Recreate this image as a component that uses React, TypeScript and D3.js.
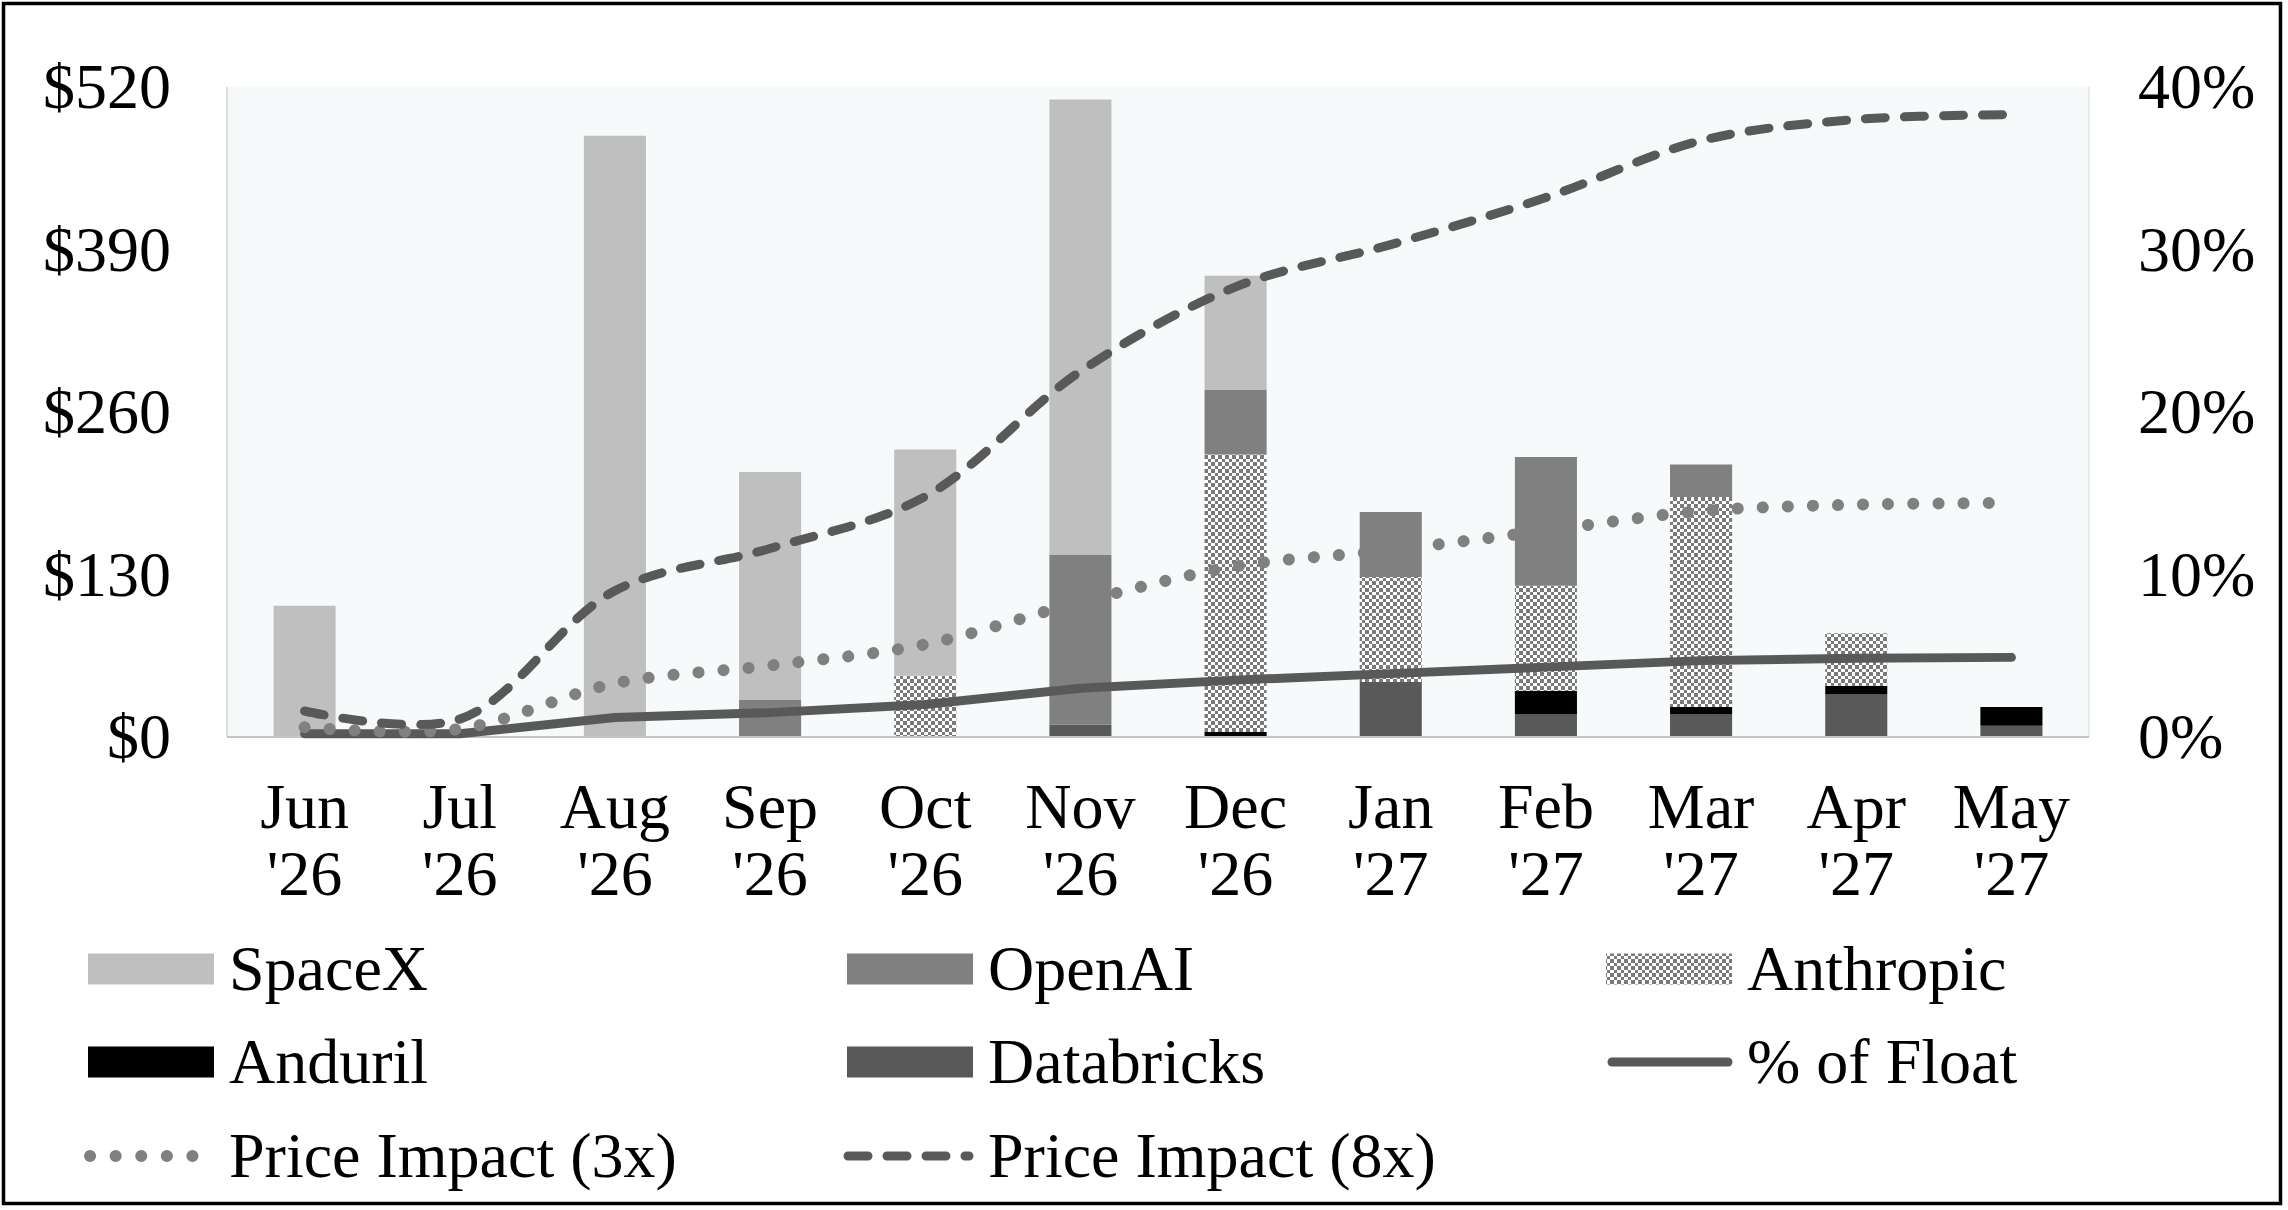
import { useEffect, useRef } from "react";
import * as d3 from "d3";

// months on the x axis, two lines each
const months = ["Jun", "Jul", "Aug", "Sep", "Oct", "Nov", "Dec", "Jan", "Feb", "Mar", "Apr", "May"];
const years = ["'26", "'26", "'26", "'26", "'26", "'26", "'26", "'27", "'27", "'27", "'27", "'27"];

// bar values ($), stacked bottom to top: Databricks, Anduril, Anthropic, OpenAI, SpaceX
const databricks = [0, 0, 0, 0, 0, 10, 0, 44, 18, 18, 34, 9];
const anduril = [0, 0, 0, 0, 0, 0, 4, 0, 19, 6, 7, 15];
const anthropic = [0, 0, 0, 0, 49, 0, 222, 84, 84, 168, 42, 0];
const openai = [0, 0, 0, 30, 0, 136, 52, 52, 103, 26, 0, 0];
const spacex = [105, 0, 481, 182, 181, 364, 91, 0, 0, 0, 0, 0];

// line values (%), right axis
const pctFloat = [0.2, 0.2, 1.2, 1.5, 2.0, 3.0, 3.5, 3.9, 4.3, 4.7, 4.85, 4.9];
const impact3x = [0.6, 0.5, 3.3, 4.4, 5.7, 8.3, 10.5, 11.5, 12.7, 13.9, 14.3, 14.4];
const impact8x = [1.6, 1.1, 9.0, 11.6, 14.8, 22.5, 27.7, 30.3, 33.2, 36.7, 38.0, 38.3];

const leftTicks = [0, 130, 260, 390, 520];
const rightTicks = [0, 10, 20, 30, 40];

const W = 2288;
const H = 1210;
const FONT = "'Liberation Serif', 'Times New Roman', serif";

export default function App() {
  const ref = useRef<SVGSVGElement | null>(null);

  useEffect(() => {
    if (!ref.current) return;
    const svg = d3.select(ref.current);
    svg.selectAll("*").remove();

    const m = { left: 227, right: 2089, top: 87, bottom: 737 };

    const x = d3.scaleBand<string>()
      .domain(months.map((d, i) => d + i))
      .range([m.left, m.right])
      .paddingInner(0.6)
      .paddingOuter(0.3);
    const key = (i: number) => months[i] + i;
    const cx = (i: number) => (x(key(i)) as number) + x.bandwidth() / 2;

    const y = d3.scaleLinear().domain([0, 520]).range([m.bottom, m.top]);
    const y2 = d3.scaleLinear().domain([0, 40]).range([m.bottom, m.top]);

    // checkerboard for Anthropic
    const defs = svg.append("defs");
    const pat = defs.append("pattern")
      .attr("id", "checker")
      .attr("patternUnits", "userSpaceOnUse")
      .attr("width", 7)
      .attr("height", 7);
    pat.append("rect").attr("width", 7).attr("height", 7).attr("fill", "#ffffff");
    pat.append("rect").attr("width", 3.5).attr("height", 3.5).attr("fill", "#7a7a7a")
      .attr("shape-rendering", "crispEdges");
    pat.append("rect").attr("x", 3.5).attr("y", 3.5).attr("width", 3.5).attr("height", 3.5).attr("fill", "#7a7a7a")
      .attr("shape-rendering", "crispEdges");

    svg.append("rect").attr("width", W).attr("height", H).attr("fill", "#ffffff");

    // plot area
    svg.append("rect")
      .attr("x", m.left).attr("y", m.top)
      .attr("width", m.right - m.left).attr("height", m.bottom - m.top)
      .attr("fill", "#f6fafb");
    svg.append("line").attr("x1", m.left).attr("x2", m.left).attr("y1", m.top).attr("y2", m.bottom)
      .attr("stroke", "#d4d4d4").attr("stroke-width", 1.5);
    svg.append("line").attr("x1", m.right).attr("x2", m.right).attr("y1", m.top).attr("y2", m.bottom)
      .attr("stroke", "#dfe3e4").attr("stroke-width", 1.5);

    // stacked bars
    const series = [
      { name: "Databricks", values: databricks, fill: "#595959" },
      { name: "Anduril", values: anduril, fill: "#000000" },
      { name: "Anthropic", values: anthropic, fill: "url(#checker)" },
      { name: "OpenAI", values: openai, fill: "#808080" },
      { name: "SpaceX", values: spacex, fill: "#bfbfbf" },
    ];
    const rows = months.map((_, i) => {
      const r: Record<string, number> = { i };
      series.forEach(s => (r[s.name] = s.values[i]));
      return r;
    });
    const stacked = d3.stack<Record<string, number>>().keys(series.map(s => s.name))(rows);

    stacked.forEach((layer, li) => {
      svg.append("g")
        .attr("fill", series[li].fill)
        .selectAll("rect")
        .data(layer.filter(d => d[1] - d[0] > 0))
        .join("rect")
        .attr("x", d => x(key(d.data.i)) as number)
        .attr("width", x.bandwidth())
        .attr("y", d => y(d[1]))
        .attr("height", d => y(d[0]) - y(d[1]));
    });

    svg.append("line").attr("x1", m.left).attr("x2", m.right).attr("y1", m.bottom).attr("y2", m.bottom)
      .attr("stroke", "#c4c4c4").attr("stroke-width", 2);

    // lines
    const straight = d3.line<number>().x((_, i) => cx(i)).y(d => y2(d));
    const smooth = d3.line<number>().x((_, i) => cx(i)).y(d => y2(d)).curve(d3.curveCatmullRom.alpha(0.5));

    svg.append("path").datum(pctFloat)
      .attr("fill", "none").attr("stroke", "#595959").attr("stroke-width", 9)
      .attr("stroke-linecap", "round").attr("stroke-linejoin", "round")
      .attr("d", straight);
    svg.append("path").datum(impact3x)
      .attr("fill", "none").attr("stroke", "#808080").attr("stroke-width", 12)
      .attr("stroke-linecap", "round").attr("stroke-dasharray", "0.1 25")
      .attr("d", smooth);
    svg.append("path").datum(impact8x)
      .attr("fill", "none").attr("stroke", "#595959").attr("stroke-width", 9)
      .attr("stroke-linecap", "round").attr("stroke-dasharray", "20 19")
      .attr("d", smooth);

    const text = (g: d3.Selection<SVGSVGElement, unknown, null, undefined>) =>
      g.append("text").attr("font-family", FONT).attr("font-size", 64).attr("fill", "#000");

    // axes labels
    leftTicks.forEach(v => {
      text(svg).attr("x", 171).attr("y", y(v) + 21).attr("text-anchor", "end").text(`$${v}`);
    });
    rightTicks.forEach(v => {
      text(svg).attr("x", 2138).attr("y", y2(v) + 21).attr("text-anchor", "start").text(`${v}%`);
    });
    months.forEach((mo, i) => {
      text(svg).attr("x", cx(i)).attr("y", 828).attr("text-anchor", "middle").text(mo);
      text(svg).attr("x", cx(i)).attr("y", 895).attr("text-anchor", "middle").text(years[i]);
    });

    // legend
    const colX = [88, 847, 1606];
    const rowY = [990, 1083, 1177];
    const items = [
      { label: "SpaceX", type: "box", fill: "#bfbfbf" },
      { label: "OpenAI", type: "box", fill: "#808080" },
      { label: "Anthropic", type: "box", fill: "url(#checker)" },
      { label: "Anduril", type: "box", fill: "#000000" },
      { label: "Databricks", type: "box", fill: "#595959" },
      { label: "% of Float", type: "solid", fill: "#595959" },
      { label: "Price Impact (3x)", type: "dot", fill: "#808080" },
      { label: "Price Impact (8x)", type: "dash", fill: "#595959" },
    ];
    items.forEach((it, k) => {
      const lx = colX[k % 3];
      const ly = rowY[Math.floor(k / 3)];
      const mid = ly - 21;
      if (it.type === "box") {
        svg.append("rect").attr("x", lx).attr("y", mid - 15.5).attr("width", 126).attr("height", 31).attr("fill", it.fill);
      } else {
        const ln = svg.append("line")
          .attr("x1", lx + 6).attr("x2", lx + 122).attr("y1", mid).attr("y2", mid)
          .attr("stroke", it.fill).attr("stroke-linecap", "round");
        if (it.type === "solid") ln.attr("stroke-width", 9);
        if (it.type === "dot") ln.attr("stroke-width", 12).attr("stroke-dasharray", "0.1 25.5").attr("x1", lx + 2);
        if (it.type === "dash") ln.attr("stroke-width", 9).attr("stroke-dasharray", "20 19").attr("x1", lx + 1);
      }
      text(svg).attr("x", lx + 141).attr("y", ly).text(it.label);
    });

    // outer frame
    svg.append("rect")
      .attr("x", 3.5).attr("y", 3.5).attr("width", 2277).attr("height", 1200)
      .attr("fill", "none").attr("stroke", "#000").attr("stroke-width", 3.5);
  }, []);

  return (
    <svg
      ref={ref}
      width={W}
      height={H}
      style={{ position: "absolute", left: 0, top: 0, display: "block" }}
    />
  );
}
